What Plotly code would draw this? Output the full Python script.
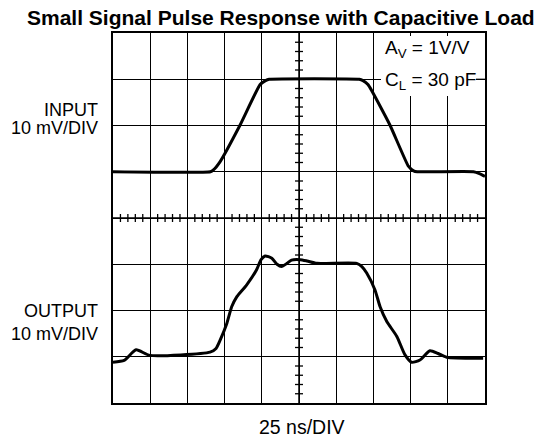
import plotly.graph_objects as go

# Time axis in divisions (25 ns/DIV), amplitude in divisions (10 mV/DIV)
input_t = [0.0, 2.62, 2.70, 2.88, 3.41, 3.95, 4.10, 4.20, 6.62, 6.72, 6.86, 7.45, 7.94, 8.08, 8.18, 9.69, 9.85, 10.0]
input_v = [5.0, 5.0, 5.04, 5.22, 6.0, 6.88, 6.97, 7.0, 7.0, 6.97, 6.88, 6.0, 5.12, 5.02, 5.0, 5.0, 4.96, 4.9]

output_t = [0.0, 0.30, 0.62, 0.99, 2.61, 2.77, 2.88, 3.06, 3.19, 3.33, 3.59, 3.86, 3.98, 4.09, 4.27, 4.41,
            4.53, 4.68, 4.80, 5.03, 5.22, 5.48, 6.55, 6.69, 6.82, 7.04, 7.18, 7.36, 7.63, 7.85, 8.03,
            8.25, 8.52, 8.74, 8.97, 9.95]
output_v = [0.88, 0.92, 1.15, 1.03, 1.10, 1.18, 1.36, 1.72, 2.08, 2.30, 2.55, 2.88, 3.10, 3.18, 3.13, 3.00,
            2.95, 3.02, 3.09, 3.10, 3.07, 3.02, 3.02, 2.95, 2.81, 2.45, 2.08, 1.76, 1.44, 1.04, 0.88,
            0.93, 1.13, 1.07, 0.99, 0.97]

N_XDIV = 10
N_YDIV = 8
FONT = "Liberation Sans, Arial, sans-serif"

fig = go.Figure()
fig.add_trace(go.Scatter(x=input_t, y=input_v, mode="lines",
                         line=dict(color="black", width=3, shape="spline", smoothing=0.4),
                         hoverinfo="skip", showlegend=False))
fig.add_trace(go.Scatter(x=output_t, y=output_v, mode="lines",
                         line=dict(color="black", width=3, shape="spline", smoothing=0.6),
                         hoverinfo="skip", showlegend=False))

PL, PR, PT, PB = 113, 485, 33, 403


def px(x):
    return (x - PL) / (PR - PL)


def py(y):
    return (PB - y) / (PB - PT)


shapes = []
# Center crosshair lines
shapes.append(dict(type="line", xref="x", yref="y", x0=N_XDIV / 2, x1=N_XDIV / 2, y0=0, y1=N_YDIV,
                   line=dict(color="black", width=1.5), layer="below"))
shapes.append(dict(type="line", xref="x", yref="y", x0=0, x1=N_XDIV, y0=N_YDIV / 2, y1=N_YDIV / 2,
                   line=dict(color="black", width=1.5), layer="below"))
# Minor ticks along center lines (1/5 division)
for i in range(N_XDIV * 5 + 1):
    if i % 5 == 0:
        continue
    xv = i / 5
    shapes.append(dict(type="line", xref="x", yref="y", ysizemode="pixel", yanchor=N_YDIV / 2,
                       x0=xv, x1=xv, y0=-4, y1=4, line=dict(color="black", width=1.3), layer="below"))
for i in range(N_YDIV * 5 + 1):
    if i % 5 == 0:
        continue
    yv = i / 5
    shapes.append(dict(type="line", xref="x", yref="y", xsizemode="pixel", xanchor=N_XDIV / 2,
                       x0=-4, x1=4, y0=yv, y1=yv, line=dict(color="black", width=1.3), layer="below"))
# White label box in the upper-right corner (covers grid behind the text)
shapes.append(dict(type="rect", xref="paper", yref="paper", x0=px(381), x1=px(476), y0=py(96), y1=py(36),
                   fillcolor="white", line=dict(width=0), layer="above"))
# Grid line segment at the C_L level, visible right of the text
shapes.append(dict(type="line", xref="paper", yref="y", x0=px(476), x1=1, y0=7, y1=7,
                   line=dict(color="black", width=1.2), layer="above"))

axis_common = dict(showgrid=True, gridcolor="black", gridwidth=1.2, zeroline=False,
                   showticklabels=False, ticks="", showline=True, linecolor="black",
                   linewidth=2, mirror=True, fixedrange=True)

annotations = [
    dict(text="<b>Small Signal Pulse Response with Capacitive Load</b>", x=px(281), y=py(18),
         xanchor="center", font=dict(size=21, color="black", family=FONT)),
    dict(text="INPUT", x=px(100), y=py(110), xanchor="right", font=dict(size=18, color="black", family=FONT)),
    dict(text="10 mV/DIV", x=px(100), y=py(128), xanchor="right", font=dict(size=18, color="black", family=FONT)),
    dict(text="OUTPUT", x=px(100), y=py(311), xanchor="right", font=dict(size=18, color="black", family=FONT)),
    dict(text="10 mV/DIV", x=px(100), y=py(334), xanchor="right", font=dict(size=18, color="black", family=FONT)),
    dict(text="25 ns/DIV", x=px(302), y=py(427), xanchor="center", font=dict(size=19.5, color="black", family=FONT)),
    dict(text="A<sub>V</sub> = 1V/V", x=px(383), y=py(49), xanchor="left",
         font=dict(size=19, color="black", family=FONT)),
    dict(text="C<sub>L</sub> = 30 pF", x=px(383), y=py(81), xanchor="left",
         font=dict(size=19, color="black", family=FONT)),
]
for a in annotations:
    a.update(xref="paper", yref="paper", showarrow=False, yanchor="middle")

fig.update_layout(
    width=551, height=442,
    margin=dict(l=PL, r=551 - PR, t=PT, b=442 - PB),
    paper_bgcolor="white", plot_bgcolor="white",
    xaxis=dict(range=[0, N_XDIV], dtick=1, tick0=0, **axis_common),
    yaxis=dict(range=[0, N_YDIV], dtick=1, tick0=0, **axis_common),
    shapes=shapes,
    annotations=annotations,
    font=dict(family=FONT, color="black"),
)

fig.write_html("out.html", config={"displayModeBar": False},
               post_script="document.body.style.margin='0';document.body.style.overflow='hidden';")
